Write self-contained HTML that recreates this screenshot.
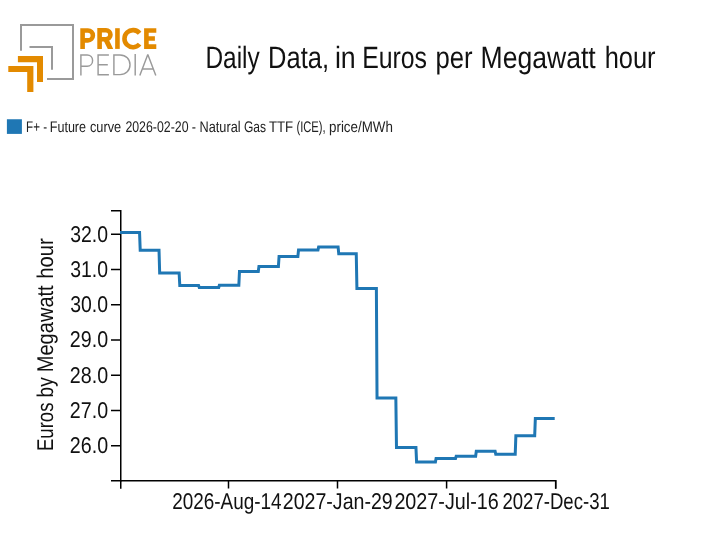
<!DOCTYPE html>
<html><head><meta charset="utf-8"><title>Pricepedia chart</title>
<style>
html,body{margin:0;padding:0;background:#fff;width:712px;height:555px;overflow:hidden;}
svg{display:block;position:absolute;left:0;top:0;will-change:transform;}
text{font-family:"Liberation Sans",sans-serif;text-rendering:geometricPrecision;}
</style></head><body>
<svg width="712" height="555" viewBox="0 0 712 555">
<!-- logo -->
<g fill="none" stroke="#9a9a9a" stroke-width="2" stroke-linejoin="miter">
<path d="M21,50.8V25H73V79H47"/>
<path d="M29.5,47H52V69.8"/>
</g>
<g fill="#E38A00">
<path d="M17.9,56.1H43V82H37V62.2H17.9Z"/>
<path d="M8.3,66H33.4V91.9H27.2V72.1H8.3Z"/>
</g>
<g fill="none" stroke="#E38A00" stroke-width="4.6" stroke-linejoin="miter">
<path d="M82.6,48.9V30.5H87.9A4.95,4.95 0 0 1 87.9,40.4H82.6"/>
<path d="M99.6,48.9V30.3H106A4.45,4.45 0 0 1 106,39.2H99.6"/>
<path d="M117.45,28.2V48.9"/>
<path d="M139.6,33.2A8.55,8.55 0 1 0 139.6,44.1"/>
<path d="M156.3,30.5H146.4V46.6H156.3M146.4,38.45H154.9"/>
</g>
<path fill="#E38A00" d="M103.6,40.6H109.2L113.2,48.9H107.8Z"/>
<g fill="none" stroke="#9a9a9a" stroke-width="1.45">
<path d="M80.9,75.4V54.9H87.2C90.3,54.9 92.6,57.2 92.6,60.5C92.6,63.8 90.3,66.2 87.2,66.2H80.9"/>
<path d="M108.9,54.9H98.1V74.7H108.9M98.1,64.7H107.8"/>
<path d="M113.9,54.9V74.6H120C126,74.6 130,70.4 130,64.75C130,59.1 126,54.9 120,54.9Z"/>
<path d="M135.2,54.1V75.4"/>
<path d="M139.8,75.4L147.8,54.5L155.8,75.4M142.7,69H153" stroke-linejoin="bevel"/>
</g>
<!-- legend swatch -->
<rect x="6.9" y="119.25" width="15" height="14.65" fill="#1f77b4"/>
<!-- axes -->
<g stroke="#000" stroke-width="1.5" fill="none">
<path d="M111,210.75H120.75V480.75H111"/>
<path d="M120.75,488.7V480.75H555.9V488.7"/>
<path d="M111,234.25H120.75M111,269.48H120.75M111,304.71H120.75M111,339.94H120.75M111,375.17H120.75M111,410.4H120.75M111,445.63H120.75"/>
<path d="M228.5,480.75V488.6M337.5,480.75V488.6M446.6,480.75V488.6"/>
<path d="M555.5,480.75V488.7" stroke-width="1.2"/>
</g>
<!-- data line -->
<path fill="none" stroke="#1f77b4" stroke-width="3" stroke-linejoin="miter" d="M120,232.55H139.56L140.21,250.30H159.02L159.67,273.05H179.14L179.79,285.60H198.60L199.25,287.50H218.72L219.37,285.30H238.83L239.48,271.45H258.29L258.94,266.60H278.41L279.06,256.50H297.87L298.52,250.00H317.98L318.63,246.90H338.10L338.75,253.85H356.26L356.91,288.46H376.38L377.03,398.10H395.84L396.49,447.60H415.95L416.60,462.05H435.42L436.07,458.50H455.53L456.18,456.30H475.64L476.29,451.30H495.11L495.76,454.30H515.22L515.87,435.85H534.69L535.34,418.50H554.70"/>
<!-- texts -->
<g font-size="30.8" fill="#111">
<text id="t1" x="205.48" y="68" textLength="54.29" lengthAdjust="spacingAndGlyphs">Daily</text>
<text id="t2" x="268.07" y="68" textLength="60.89" lengthAdjust="spacingAndGlyphs">Data,</text>
<text id="t3" x="334.89" y="68" textLength="20.82" lengthAdjust="spacingAndGlyphs">in</text>
<text id="t4" x="362.17" y="68" textLength="64.87" lengthAdjust="spacingAndGlyphs">Euros</text>
<text id="t5" x="435.41" y="68" textLength="37.09" lengthAdjust="spacingAndGlyphs">per</text>
<text id="t6" x="480.59" y="68" textLength="115.15" lengthAdjust="spacingAndGlyphs">Megawatt</text>
<text id="t7" x="604.64" y="68" textLength="50.93" lengthAdjust="spacingAndGlyphs">hour</text>
</g>
<g font-size="15.4" fill="#222">
<text id="l1" x="26.06" y="131.7" textLength="20.95" lengthAdjust="spacingAndGlyphs">F+ -</text>
<text id="l2" x="49.73" y="131.7" textLength="36.32" lengthAdjust="spacingAndGlyphs">Future</text>
<text id="l3" x="89.98" y="131.7" textLength="31.24" lengthAdjust="spacingAndGlyphs">curve</text>
<text id="l4" x="125.41" y="131.7" textLength="63.09" lengthAdjust="spacingAndGlyphs">2026-02-20</text>
<text id="l5" x="191.79" y="131.7" textLength="48.78" lengthAdjust="spacingAndGlyphs">- Natural</text>
<text id="l6" x="243.92" y="131.7" textLength="22.11" lengthAdjust="spacingAndGlyphs">Gas</text>
<text id="l7" x="268.88" y="131.7" textLength="24.24" lengthAdjust="spacingAndGlyphs">TTF</text>
<text id="l8" x="296.43" y="131.7" textLength="29.24" lengthAdjust="spacingAndGlyphs">(ICE),</text>
<text id="l9" x="329.00" y="131.7" textLength="63.83" lengthAdjust="spacingAndGlyphs">price/MWh</text>
</g>
<g font-size="22.8" fill="#111">
<text id="w1" transform="translate(52.5,451.01) rotate(-90)" textLength="48.44" lengthAdjust="spacingAndGlyphs">Euros</text>
<text id="w2" transform="translate(52.5,397.39) rotate(-90)" textLength="20.04" lengthAdjust="spacingAndGlyphs">by</text>
<text id="w3" transform="translate(52.5,372.25) rotate(-90)" textLength="86.95" lengthAdjust="spacingAndGlyphs">Megawatt</text>
<text id="w4" transform="translate(52.5,278.77) rotate(-90)" textLength="40.41" lengthAdjust="spacingAndGlyphs">hour</text>
<text id="y32" x="70.15" y="242" textLength="37.82" lengthAdjust="spacingAndGlyphs">32.0</text>
<text id="y31" x="70.15" y="277" textLength="37.82" lengthAdjust="spacingAndGlyphs">31.0</text>
<text id="y30" x="70.15" y="312" textLength="37.82" lengthAdjust="spacingAndGlyphs">30.0</text>
<text id="y29" x="69.80" y="347" textLength="38.28" lengthAdjust="spacingAndGlyphs">29.0</text>
<text id="y28" x="69.80" y="383" textLength="38.28" lengthAdjust="spacingAndGlyphs">28.0</text>
<text id="y27" x="69.80" y="418" textLength="38.28" lengthAdjust="spacingAndGlyphs">27.0</text>
<text id="y26" x="69.80" y="453" textLength="38.28" lengthAdjust="spacingAndGlyphs">26.0</text>
<text id="x1" x="172.24" y="508.9" textLength="109.39" lengthAdjust="spacingAndGlyphs">2026-Aug-14</text>
<text id="x2" x="282.76" y="508.9" textLength="110.02" lengthAdjust="spacingAndGlyphs">2027-Jan-29</text>
<text id="x3" x="394.39" y="508.9" textLength="104.43" lengthAdjust="spacingAndGlyphs">2027-Jul-16</text>
<text id="x4" x="502.39" y="508.9" textLength="107.52" lengthAdjust="spacingAndGlyphs">2027-Dec-31</text>
</g>
</svg>
</body></html>
